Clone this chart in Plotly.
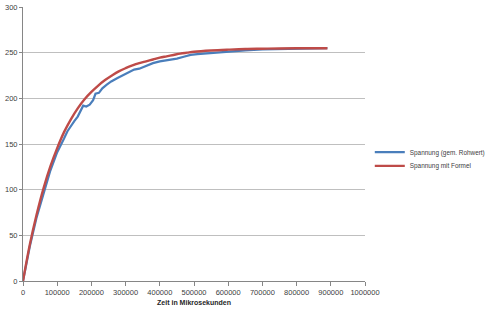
import plotly.graph_objects as go

# Data
t_formel = [0, 20000, 40000, 60000, 80000, 100000, 120000, 140000, 160000, 180000,
            200000, 220000, 240000, 260000, 280000, 300000, 320000, 340000, 360000,
            380000, 400000, 420000, 440000, 460000, 480000, 500000, 550000, 600000,
            650000, 700000, 750000, 800000, 850000, 890000]
v_formel = [0, 40, 73, 101.5, 125.5, 145.5, 163, 177, 189, 199,
            207, 214, 220, 225, 229.5, 233, 236, 238.5, 240.5,
            242.5, 244.5, 246, 247.5, 249, 250, 251, 252.4, 253.3,
            254, 254.3, 254.6, 254.8, 254.9, 254.9]

t_roh = [0, 20000, 40000, 60000, 80000, 100000, 110000, 120000, 130000, 140000,
         150000, 160000, 170000, 176000, 185000, 195000, 205000, 212000, 222000,
         232000, 245000, 258000, 275000, 290000, 310000, 325000, 340000, 360000,
         380000, 400000, 430000, 450000, 470000, 490000, 510000, 540000, 570000,
         600000, 650000, 700000, 750000, 800000, 850000, 890000]
v_roh = [0, 38, 70, 97, 121, 141, 148, 156, 164, 170,
         175, 180, 187, 192, 191, 193, 198, 205, 206,
         211, 215, 218.5, 222, 225, 228.5, 231.5, 232.5, 235.5,
         238.5, 240.5, 242, 243.5, 245.5, 247.5, 248.5, 249.5, 250.5,
         251.5, 252.5, 253.5, 254, 254.5, 255, 255]

x_ticks = list(range(0, 1000001, 100000))
y_ticks = list(range(0, 301, 50))

font = "Liberation Sans, Arial, sans-serif"

fig = go.Figure()
fig.add_trace(go.Scatter(x=t_roh, y=v_roh, mode="lines", name="Spannung (gem. Rohwert)",
                         line=dict(color="#4a7ebb", width=2.2), legend="legend", showlegend=True))
fig.add_trace(go.Scatter(x=t_formel, y=v_formel, mode="lines", name="Spannung mit Formel",
                         line=dict(color="#be4b48", width=2.4, shape="spline"), legend="legend2",
                         showlegend=True))

fig.update_layout(
    width=499, height=316,
    showlegend=True,
    margin=dict(l=23, r=134, t=7, b=35, autoexpand=False),
    paper_bgcolor="white", plot_bgcolor="white",
    font=dict(family=font, size=7, color="#404040"),
    legend=dict(x=1.014, y=0.470, xanchor="left", yanchor="middle",
                bgcolor="rgba(0,0,0,0)", font=dict(size=6.4, color="#404040"),
                itemwidth=30, borderwidth=0),
    legend2=dict(x=1.014, y=0.420, xanchor="left", yanchor="middle",
                 bgcolor="rgba(0,0,0,0)", font=dict(size=6.4, color="#404040"),
                 itemwidth=30, borderwidth=0),
    xaxis=dict(range=[0, 1000000], tickvals=x_ticks, ticktext=[str(v) for v in x_ticks],
               showgrid=False, zeroline=False, showline=True, linecolor="#868686", linewidth=1,
               ticks="outside", ticklen=4, tickcolor="#868686",
               tickfont=dict(size=7.5, color="#404040"),
               title=dict(text="<b>Zeit in Mikrosekunden</b>", font=dict(size=7, color="#262626"),
                          standoff=4)),
    yaxis=dict(range=[0, 300], tickvals=y_ticks, ticktext=[str(v) for v in y_ticks],
               showgrid=True, gridcolor="#bfbfbf", gridwidth=1, zeroline=False,
               showline=True, linecolor="#868686", linewidth=1,
               ticks="outside", ticklen=3, tickcolor="#868686",
               tickfont=dict(size=7.5, color="#404040")),
)

fig.write_html("out.html")
